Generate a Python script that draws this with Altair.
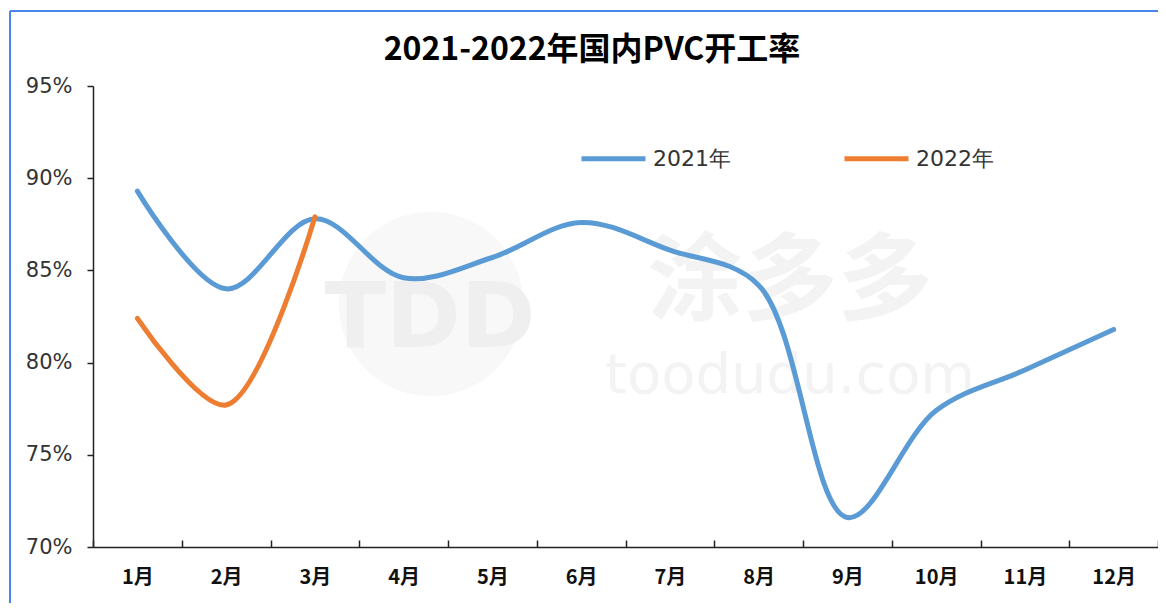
import altair as alt
import pandas as pd

months = [f"{i}月" for i in range(1, 13)]
series_2021 = [89.3, 84.0, 87.8, 84.6, 85.7, 87.6, 86.1, 84.2, 71.6, 77.4, 79.6, 81.8]
series_2022 = [82.4, 77.7, 87.9]
years = ["2021年", "2022年"]
colors = ["#5B9BD5", "#ED7D31"]
y_ticks = [70, 75, 80, 85, 90, 95]
title_text = ["2021-2022年国内PVC开工率"]
wm_texts = ["TDD", "涂多多", "toodudu.com"]

rows = []
for m, v in zip(months, series_2021):
    rows.append({"month": m, "year": years[0], "value": v})
for m, v in zip(months, series_2022):
    rows.append({"month": m, "year": years[1], "value": v})
df = pd.DataFrame(rows)

W, H = 1065, 461

x_enc = alt.X(
    "month:N",
    sort=months,
    bandPosition=0.5,
    scale=alt.Scale(type="band", domain=months, paddingInner=0, paddingOuter=0),
    axis=alt.Axis(
        title=None,
        tickBand="extent",
        tickSize={"expr": "-7"},
        labelPadding=27,
        labelAngle=0,
        labelFont="Noto Sans CJK SC",
        labelFontWeight="bold",
        labelFontSize=20,
        labelColor="#111111",
        domainColor="#222222",
        domainWidth=1.5,
        tickColor="#222222",
        tickWidth=1.5,
    ),
)
y_enc = alt.Y(
    "value:Q",
    scale=alt.Scale(domain=[70, 95], nice=False, zero=False),
    axis=alt.Axis(
        title=None,
        values=y_ticks,
        labelExpr="datum.value + '%'",
        grid=False,
        tickSize=6,
        labelPadding=15,
        labelFont="DejaVu Sans",
        labelFontSize=21,
        labelColor="#333333",
        domainColor="#222222",
        domainWidth=1.5,
        tickColor="#222222",
        tickWidth=1.5,
    ),
)

lines = alt.Chart(df).mark_line(strokeWidth=5, interpolate="catmull-rom", strokeCap="round").encode(
    x=x_enc,
    y=y_enc,
    color=alt.Color(
        "year:N",
        scale=alt.Scale(domain=years, range=colors),
        legend=alt.Legend(
            title=None,
            orient="none",
            legendX=486,
            legendY=38,
            direction="horizontal",
            symbolType="stroke",
            symbolSize=4096,
            symbolStrokeWidth=5,
            labelFont="DejaVu Sans",
            labelFontSize=22,
            labelColor="#333333",
            columnPadding=103,
            labelOffset=5,
        ),
    ),
)

frame_top = alt.Chart(pd.DataFrame({"a": [0]})).mark_rule(stroke="#4A86E8", strokeWidth=2).encode(
    x=alt.value(-83), x2=alt.value(1200), y=alt.value(-75)
)
frame_left = alt.Chart(pd.DataFrame({"a": [0]})).mark_rule(stroke="#4A86E8", strokeWidth=2).encode(
    x=alt.value(-83), y=alt.value(-75), y2=alt.value(600)
)

wm0 = alt.Chart(pd.DataFrame({"a": [0]})).mark_point(
    shape="circle", filled=True, fill="#f8f8f8", opacity=1, size=34000, stroke=None
).encode(x=alt.value(338), y=alt.value(218))
wm1 = alt.Chart(pd.DataFrame({"t": [wm_texts[0]]})).mark_text(
    font="DejaVu Sans", fontWeight="bold", fontSize=90, color="#efefef"
).encode(text="t:N", x=alt.value(337), y=alt.value(234))
wm2 = alt.Chart(pd.DataFrame({"t": [wm_texts[1]]})).mark_text(
    font="Noto Sans CJK SC", fontWeight="bold", fontSize=95, color="#f3f3f3"
).encode(text="t:N", x=alt.value(697), y=alt.value(198))
wm3 = alt.Chart(pd.DataFrame({"t": [wm_texts[2]]})).mark_text(
    font="DejaVu Sans", fontSize=56, color="#f3f3f3"
).encode(text="t:N", x=alt.value(697), y=alt.value(290))

title = alt.Chart(pd.DataFrame({"t": title_text})).mark_text(
    font="Noto Sans CJK SC", fontWeight="bold", fontSize=32, color="#000000", baseline="middle"
).encode(text="t:N", x=alt.value(499), y=alt.value(-36))

chart = alt.layer(frame_top, frame_left, wm0, wm1, wm2, wm3, title, lines).properties(
    width=W,
    height=H,
    autosize=alt.AutoSizeParams(type="none"),
    padding={"left": 85, "top": 78, "right": 0, "bottom": 56},
).configure_view(stroke=None)

chart.save("out.html", embed_options={"renderer": "svg", "actions": False})
